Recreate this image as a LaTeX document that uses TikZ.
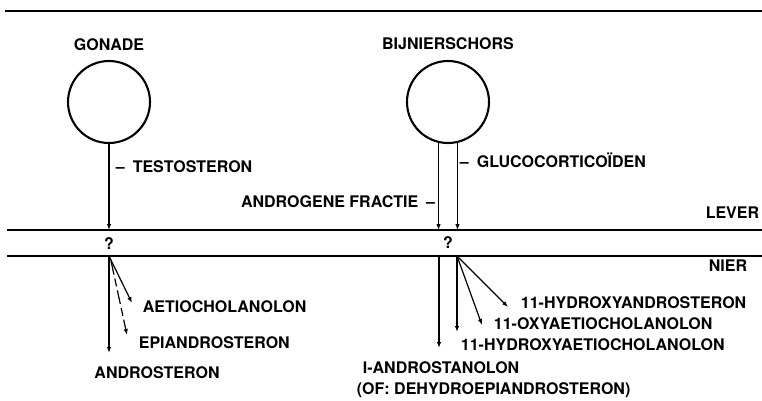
\documentclass[tikz,border=0pt]{standalone}
\usepackage{fontspec}
\setmainfont{TeX Gyre Heros}
\usetikzlibrary{arrows.meta}
\tikzset{lbl/.style={font=\bfseries\fontsize{16}{16}\selectfont,inner sep=0pt},
	pijl/.style={-{Latex[length=6pt,width=4.5pt]},line width=1.2pt},
	klier/.style={circle,draw,line width=2.1pt,minimum size=82pt,inner sep=0pt}}

\begin{document}
\begin{tikzpicture}[x=1pt,y=-1pt,line width=1.8pt]
	\useasboundingbox (0,0) rectangle (762,401);
	\draw (5,11)--(762,11);
	\draw (7,230)--(762,230) (7,256)--(762,256);
	\node[lbl] (gonade) at (109,45) {GONADE};
	\node[lbl] (bijnier) at (448,44) {BIJNIERSCHORS};
	\node[klier] (cg) at (109,102) {};
	\node[klier] (cb) at (448,102) {};
	\coordinate (gl) at (109,230);\coordinate (gn) at (109,256);
	\coordinate (bl) at (448,230);\coordinate (bn1) at (439,256);\coordinate (bn2) at (457,256);
	\node[lbl,anchor=west] (testo) at (115,167) {--\enspace TESTOSTERON};
	\node[lbl,anchor=west] (gluco) at (459,160) {--\enspace GLUCOCORTICOÏDEN};
	\node[lbl,anchor=east] (fractie) at (436,202) {ANDROGENE FRACTIE\enspace--};
	\node[lbl] (vr1) at (109,244) {?};
	\node[lbl] (vr2) at (448,243) {?};
	\node[lbl,anchor=east] (lever) at (760,213) {LEVER};
	\node[lbl,anchor=east] (nier) at (748,266) {NIER};
	\draw[pijl](cg)--(gl);
	\draw[pijl](cb.-103)--(cb.-103 |- bl);
	\draw[pijl](cb.-77)--(cb.-77 |- bl);
	% nier
	\node[lbl,anchor=west] (aetio) at (142,307) {AETIOCHOLANOLON};
	\node[lbl,anchor=west] (epi) at (138,343) {EPIANDROSTERON};
	\node[lbl] (andro) at (157,373) {ANDROSTERON};
	\draw[pijl](gn)--++(0,97);
	\draw[pijl](gn)--++(23,47);
	\draw[pijl,dash pattern=on 14pt off 4pt on 8pt off 4pt](gn)++(2,5)--++(16,74);
	\node[lbl,anchor=west] (hydandro) at (520,303) {11-HYDROXYANDROSTERON};
	\node[lbl,anchor=west] (oxyaet) at (493,324) {11-OXYAETIOCHOLANOLON};
	\node[lbl,anchor=west] (hydaet) at (460,345) {11-HYDROXYAETIOCHOLANOLON};
	\node[lbl,anchor=west] (stanolon) at (362,368) {I-ANDROSTANOLON};
	\node[lbl,anchor=west] (dhea) at (356,390) {(OF: DEHYDROEPIANDROSTERON)};
	\draw[pijl](bn1)--++(0,92);
	\draw[pijl](bn2)--++(0,76);
	\draw[pijl](bn2)--++(25,69);
	\draw[pijl](bn2)--++(51,51);
\end{tikzpicture}
\end{document}
